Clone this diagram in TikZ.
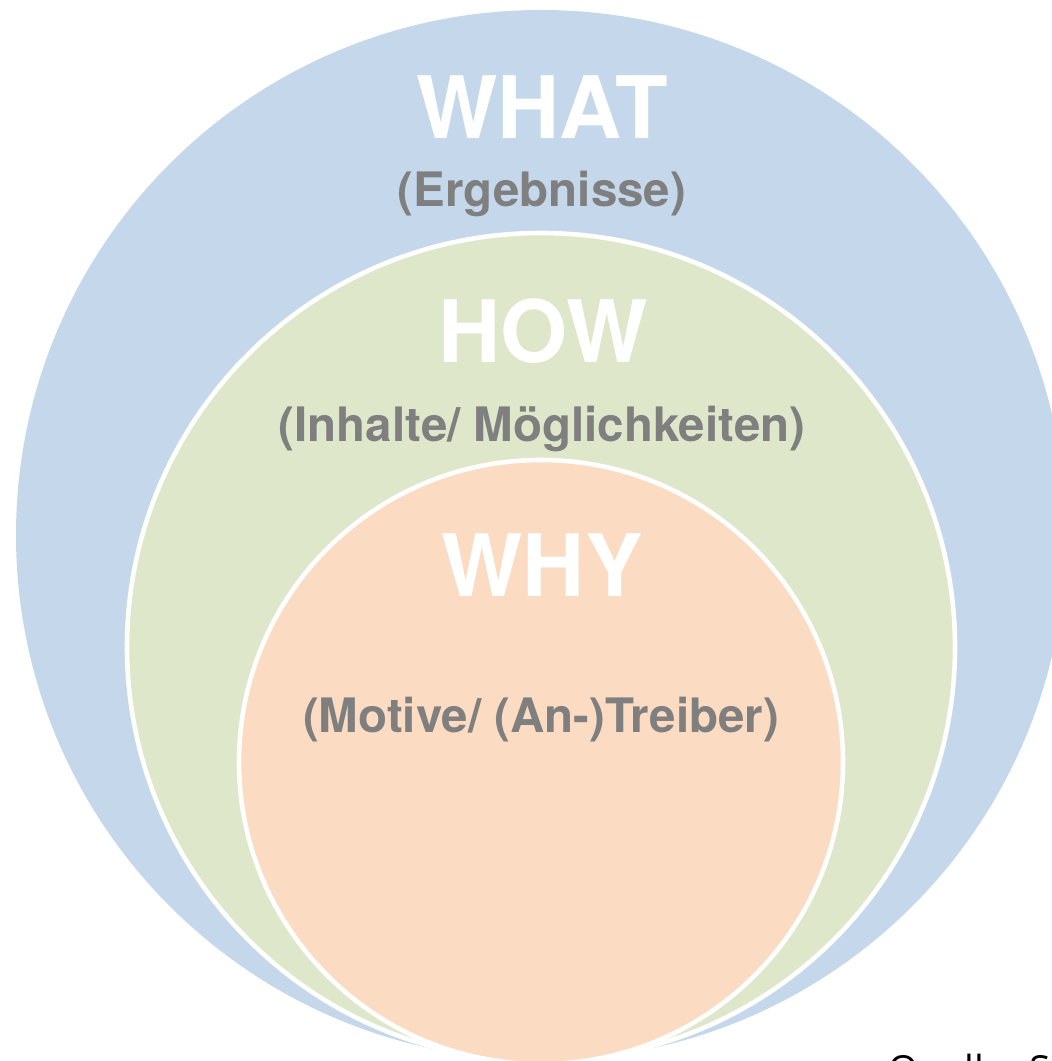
\documentclass[tikz,border=0pt]{standalone}
\usepackage{fontspec}
\setmainfont{TeX Gyre Heros}
\newfontfamily\quellfont{Open Sans}
\definecolor{whatblau}{HTML}{C5D8EB}
\definecolor{howgruen}{HTML}{DFE7CA}
\definecolor{whyorange}{HTML}{FBDCC3}
\definecolor{textgrau}{HTML}{7F7F7F}

\begin{document}
\begin{tikzpicture}[x=0.01cm, y=-0.01cm,
    kreisrand/.style={draw=white, line width=1.3pt},
    titel/.style={anchor=base, inner sep=0pt, text=white,
        font=\fontsize{24.5}{28}\selectfont\bfseries},
    untertitel/.style={anchor=base, inner sep=0pt, text=textgrau,
        font=\fontsize{13.5}{16}\selectfont\bfseries}]

    \useasboundingbox (0,0) rectangle (1052,1061);

    % Mittelpunkte und Radien der drei Kreise
    \def\Mx{541}
    \def\Rwhat{525}
    \def\Rhow{414}
    \def\Rwhy{302}
    \coordinate (Mwhat) at (\Mx,535);
    \coordinate (Mhow) at (\Mx,647);
    \coordinate (Mwhy) at (\Mx,762);

    % Kreise - von aussen nach innen
    \fill[whatblau] (Mwhat) circle [radius=\Rwhat];
    \filldraw[fill=howgruen, kreisrand] (Mhow) circle [radius=\Rhow];
    \filldraw[fill=whyorange, kreisrand] (Mwhy) circle [radius=\Rwhy];

    % Beschriftungen
    \node[titel] (what) at (542,139) {WHAT};
    \node[untertitel] (ergebnisse) at (542,207) {(Ergebnisse)};
    \node[titel] (how) at (543,363) {HOW};
    \node[untertitel] (inhalte) at (542,441) {(Inhalte/ Möglichkeiten)};
    \node[titel] (why) at (542,596) {WHY};
    \node[untertitel] (motive) at (541,732) {(Motive/ (An-)Treiber)};

    % Quellenangabe, unten abgeschnitten
    \node[anchor=base west, inner sep=0pt, font=\quellfont\fontsize{11}{13}\selectfont]
        (quelle) at (888,1083) {Quelle: Si};

\end{tikzpicture}
\end{document}
